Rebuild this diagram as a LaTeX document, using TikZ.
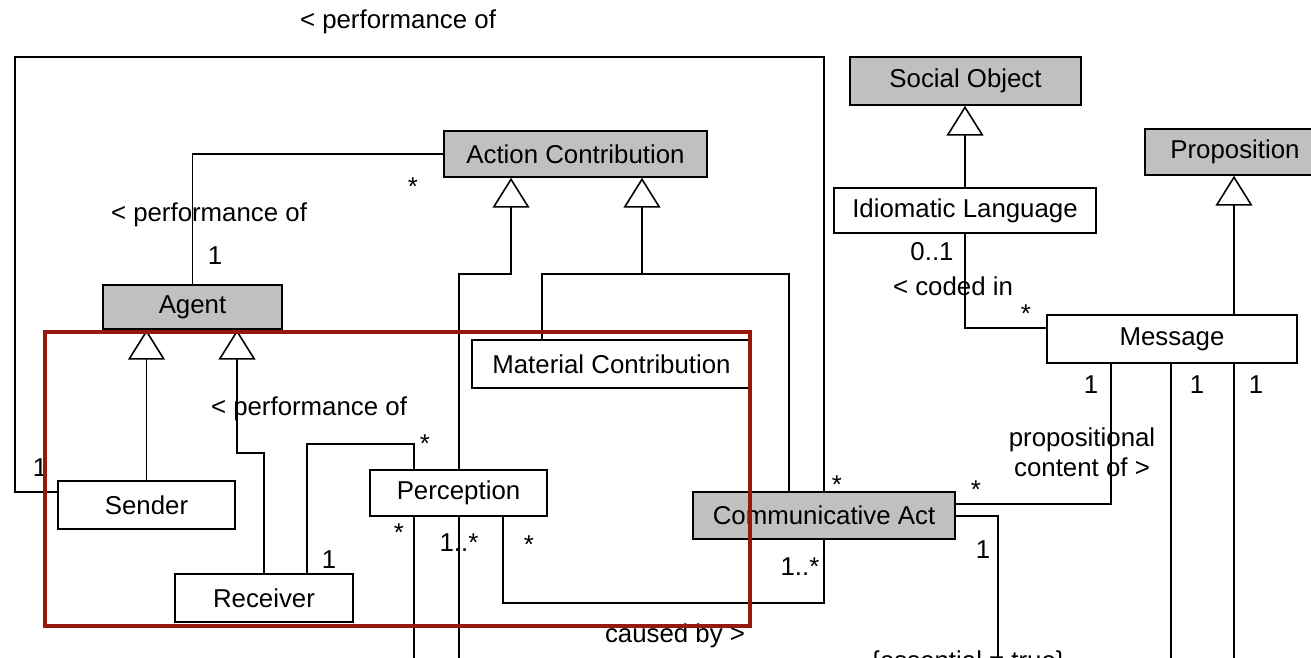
\documentclass[tikz,border=0pt]{standalone}
\usepackage{fontspec}
\setmainfont{Liberation Sans}
\usetikzlibrary{arrows.meta}
\pgfdeclarelayer{bg}
\pgfsetlayers{bg,main}
\newcommand{\pxu}{0.02cm}
\definecolor{clsgray}{RGB}{192,192,192}
\definecolor{markred}{RGB}{152,24,14}
\tikzset{
  cls/.style={draw, line width=0.9pt, fill=white, inner sep=0pt, font=\fontsize{14.7}{17}\selectfont},
  abstractcls/.style={cls, fill=clsgray},
  assoc/.style={line width=0.9pt},
  gen/.style={assoc, -{Triangle[open, length=17pt, width=21pt]}},
  lbl/.style={inner sep=0pt, font=\fontsize{14.7}{17}\selectfont, align=center},
}

\begin{document}
\begin{tikzpicture}[x=\pxu, y=-\pxu]
\useasboundingbox (0,0) rectangle (1311,658);

\node[abstractcls, minimum width=231*\pxu, minimum height=48*\pxu] (social) at (965.5,81) {Social Object};
\node[abstractcls, minimum width=180*\pxu, minimum height=46*\pxu] (prop) at (1235,152) {Proposition};
\node[cls, minimum width=262*\pxu, minimum height=45*\pxu] (idiom) at (965,210.5) {Idiomatic Language};
\node[cls, minimum width=250*\pxu, minimum height=48*\pxu] (message) at (1172,339) {Message};
\node[abstractcls, minimum width=263*\pxu, minimum height=46*\pxu] (action) at (575.5,154) {Action Contribution};
\node[abstractcls, minimum width=179*\pxu, minimum height=44*\pxu] (agent) at (192.5,307) {Agent};
\node[cls, minimum width=177*\pxu, minimum height=48*\pxu] (sender) at (146.5,505) {Sender};
\node[cls, minimum width=178*\pxu, minimum height=48*\pxu] (receiver) at (264,598) {Receiver};
\node[cls, minimum width=177*\pxu, minimum height=46*\pxu] (perception) at (458.5,493) {Perception};
\node[cls, minimum width=279*\pxu, minimum height=48*\pxu] (material) at (611.5,364) {Material Contribution};
\node[abstractcls, minimum width=262*\pxu, minimum height=47*\pxu] (commact) at (824,515.5) {Communicative Act};

\coordinate (offA) at (459,670);
\coordinate (offB) at (414,670);
\coordinate (offC) at (998,670);
\coordinate (offD) at (1171,670);
\coordinate (offE) at (1234,670);

\begin{pgfonlayer}{bg}
\draw[assoc] (sender.west |- 0,492) -- (15,492) -- (15,57) -- (824,57) -- (commact.north);
\draw[assoc] (action.west) -- (192.5,154) -- (agent.north);
\draw[gen] (sender.north) -- (sender.north |- agent.south);
\draw[gen] (receiver.north) |- (237,453) -- (agent.south -| 237,0);
\draw[assoc] (receiver.north -| 307,0) |- (414,444) -- (perception.north -| 414,0);
\draw[gen] (offA) -- (459,274) -- (511,274) -- (action.south -| 511,0);
\draw[gen] (material.north -| 542,0) -- (542,274) -- (642,274) -- (action.south -| 642,0);
\draw[assoc] (commact.north -| 789,0) -- (789,274) -- (642,274);
\draw[assoc] (perception.south -| 414,0) -- (offB);
\draw[assoc] (perception.south -| 503,0) -- (503,603) -- (824,603) -- (commact.south);
\draw[assoc] (commact.east |- 0,504) -- (1111,504) -- (message.south -| 1111,0);
\draw[assoc] (commact.east |- 0,516) -- (998,516) -- (offC);
\draw[assoc] (message.south -| 1171,0) -- (offD);
\draw[assoc] (message.south -| 1234,0) -- (offE);
\draw[assoc] (idiom.south) -- (965,328) -- (message.west |- 0,328);
\draw[gen] (idiom.north) -- (idiom.north |- social.south);
\draw[gen] (message.north -| 1234,0) -- (prop.south -| 1234,0);
\end{pgfonlayer}

\node[lbl] (perfTop) at (398,22) {< performance of};
\node[lbl] (mAction) at (413,187) {*};
\node[lbl] (perfAgent) at (209,215) {< performance of};
\node[lbl] (mAgent) at (215,256) {1};
\node[lbl] (mSender) at (40,468) {1};
\node[lbl] (perfRecv) at (309,409) {< performance of};
\node[lbl] (mPercTop) at (425,444) {*};
\node[lbl] (mRecv) at (329,560) {1};
\node[lbl] (mPercA) at (399,533) {*};
\node[lbl] (mPercB) at (459,543) {1..*};
\node[lbl] (mPercC) at (529,545) {*};
\node[lbl] (mActTop) at (837,485) {*};
\node[lbl] (mActBot) at (800,567) {1..*};
\node[lbl] (mActMsg) at (976,490) {*};
\node[lbl] (mActTrue) at (983,550) {1};
\node[lbl, anchor=base] (causedBy) at (675,642) {caused by >};
\node[lbl, anchor=base] (essential) at (968,669) {\{essential = true\}};
\node[lbl] (mMsgA) at (1091,385) {1};
\node[lbl] (mMsgB) at (1197,385) {1};
\node[lbl] (mMsgC) at (1256,385) {1};
\node[lbl] (propOf) at (1082,452) {propositional\\content of >};
\node[lbl] (mIdiom) at (932,252) {0..1};
\node[lbl] (codedIn) at (953,286) {< coded in};
\node[lbl] (mMsgIdiom) at (1026,314) {*};

\draw[markred, line width=2.8pt] (45,332) rectangle (750,626);
\end{tikzpicture}
\end{document}
